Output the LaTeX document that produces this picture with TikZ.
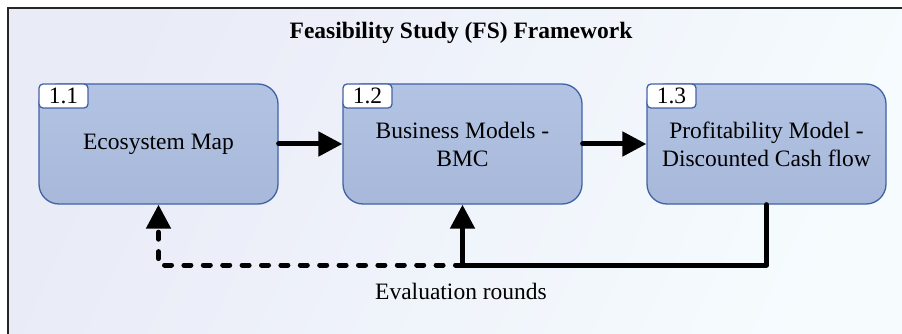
\documentclass[tikz,border=0pt]{standalone}
\usepackage{fontspec}
\IfFontExistsTF{LiberationSerif-Regular.ttf}
  {\setmainfont{LiberationSerif}[Extension=.ttf, UprightFont=*-Regular,
     BoldFont=*-Bold, ItalicFont=*-Italic, BoldItalicFont=*-BoldItalic]}
  {\setmainfont{Liberation Serif}}
\usetikzlibrary{arrows.meta}

\definecolor{bgleft}{HTML}{E9EBF7}
\definecolor{bgmid}{HTML}{F6F8FC}
\definecolor{bgright}{HTML}{F6FCFE}
\definecolor{boxtop}{HTML}{B3C3E3}
\definecolor{boxbot}{HTML}{A8B8DA}
\definecolor{boxline}{HTML}{4262A6}

\tikzset{
  stage/.style={rectangle, rounded corners=20pt, draw=boxline, line width=1.3pt,
    top color=boxtop, bottom color=boxbot,
    minimum width=239pt, minimum height=120pt, align=center, inner sep=0pt,
    font=\fontsize{23.5}{28}\selectfont},
  tab/.style={rectangle, rounded corners=4pt, draw=boxline, line width=1.3pt,
    fill=white, minimum width=49pt, minimum height=24pt, inner sep=0pt,
    anchor=north west, font=\fontsize{23.5}{24}\selectfont},
  flow/.style={line width=5pt, line cap=round, line join=round,
    -{Triangle[length=24pt,width=24pt]}},
  loopback/.style={flow, dash pattern=on 7pt off 12.4pt},
  caption/.style={font=\fontsize{23.5}{28}\selectfont}
}

\begin{document}
\begin{tikzpicture}[x=1pt,y=-1pt]
  \useasboundingbox (0,0) rectangle (902,334);
  \clip (0,0) rectangle (902,334);

  % framed background panel
  \shade[left color=bgleft, middle color=bgmid, right color=bgright, shading angle=65]
    (8,8) rectangle (930,360);
  \draw[line width=2pt, black!85] (8,8) rectangle (930,360);

  \node[caption, font=\bfseries\fontsize{23.5}{28}\selectfont] (title) at (461,33)
    {Feasibility Study (FS) Framework};

  % the three stages
  \node[stage] (b1) at (158.5,144) {Ecosystem Map};
  \node[stage] (b2) at (462.5,144) {Business Models -\\BMC};
  \node[stage] (b3) at (766.5,144) {Profitability Model -\\Discounted Cash flow};

  \node[tab] (t1) at (b1.north west) {1.1};
  \node[tab] (t2) at (b2.north west) {1.2};
  \node[tab] (t3) at (b3.north west) {1.3};

  % forward flow
  \draw[flow] (b1.east) -- (b2.west);
  \draw[flow] (b2.east) -- (b3.west);

  % feedback loop
  \coordinate (fb) at (0,265);
  \draw[flow] (b3.south) |- (b2.south |- fb) -- (b2.south);
  \draw[loopback] (b2.south |- fb) -| (b1.south);

  \node[caption] (eval) at (461,291) {Evaluation rounds};
\end{tikzpicture}
\end{document}
